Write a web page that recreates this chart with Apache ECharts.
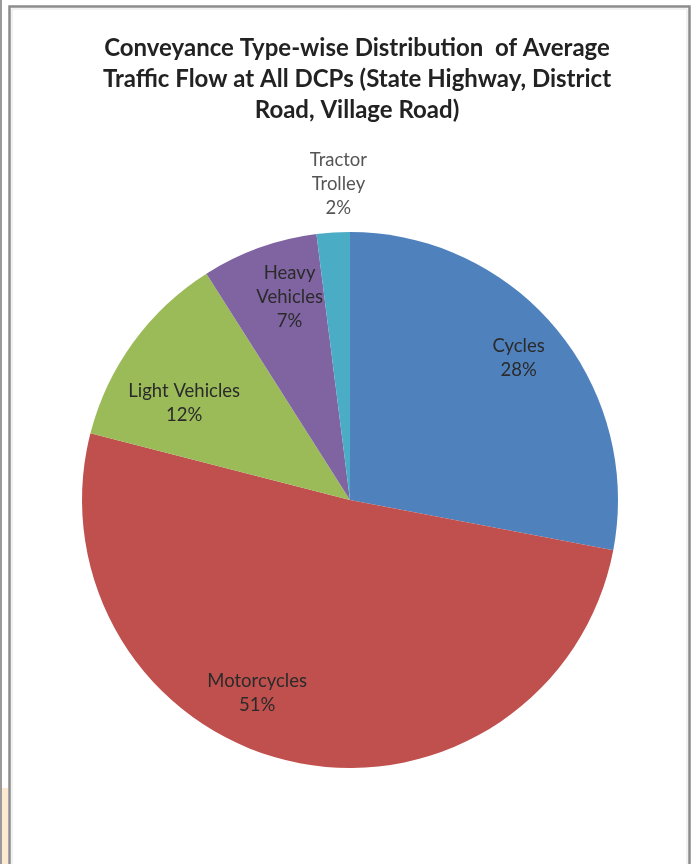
<!DOCTYPE html>
<html>
<head>
<meta charset="utf-8">
<script src="https://cdn.jsdelivr.net/npm/echarts@6/dist/echarts.min.js"></script>
<style>
  html, body { margin: 0; padding: 0; background: #ffffff; }
  #chart { width: 696px; height: 864px; }
</style>
</head>
<body>
<div id="chart"></div>
<script>
// Conveyance types and their share (%) of average traffic flow
const categories = ['Cycles', 'Motorcycles', 'Light Vehicles', 'Heavy Vehicles', 'Tractor Trolley'];
const shares = [28, 51, 12, 7, 2];
const sliceColors = ['#4F81BD', '#C0504D', '#9BBB59', '#8064A2', '#4BACC6'];

// Slice labels that wrap onto two lines
const wrapped = ['Heavy Vehicles', 'Tractor Trolley'];

// Nudges moving each label from the default inside spot to where it sits
const labelNudge = [[63, -55], [-63, 59], [-55, -16], [-14, -74], [-3, -179]];

const chart = echarts.init(document.getElementById('chart'), null, { renderer: 'canvas' });

const option = {
  backgroundColor: '#ffffff',
  animation: false,
  title: {
    text: 'Conveyance Type-wise Distribution  of Average\nTraffic Flow at All DCPs (State Highway, District\nRoad, Village Road)',
    left: 352,
    top: 28,
    textAlign: 'center',
    textStyle: {
      fontFamily: 'Lato',
      fontWeight: 'bold',
      fontSize: 24,
      lineHeight: 31,
      color: '#222222'
    }
  },
  graphic: [
    // outer page edge
    { type: 'rect', shape: { x: 0, y: 0, width: 2, height: 864 }, style: { fill: '#9a9a9a' }, silent: true },
    { type: 'rect', shape: { x: 2, y: 788, width: 6, height: 76 }, style: { fill: '#fde9d2' }, silent: true },
    // chart frame
    { type: 'rect', shape: { x: 9.5, y: 6.5, width: 680, height: 900 },
      style: { fill: 'none', stroke: '#8c8c8c', lineWidth: 2.5 }, silent: true },
    { type: 'rect', shape: { x: 12, y: 9, width: 675, height: 900 },
      style: { fill: 'none', stroke: '#e4e4e4', lineWidth: 1 }, silent: true }
  ],
  series: [{
    type: 'pie',
    center: [350, 500],
    radius: [0, 268],
    startAngle: 90,
    clockwise: true,
    silent: true,
    itemStyle: { borderWidth: 0 },
    label: {
      show: true,
      position: 'inside',
      fontFamily: 'Lato',
      fontSize: 18.5,
      lineHeight: 24,
      color: '#2a2a2a',
      formatter: function (p) {
        const name = wrapped.indexOf(p.name) >= 0 ? p.name.replace(' ', '\n') : p.name;
        return name + '\n' + p.value + '%';
      }
    },
    labelLine: { show: false },
    labelLayout: function (params) {
      const n = labelNudge[params.dataIndex];
      return { dx: n[0], dy: n[1] };
    },
    data: categories.map(function (name, i) {
      return {
        name: name,
        value: shares[i],
        itemStyle: { color: sliceColors[i] },
        label: name === 'Tractor Trolley' ? { color: '#555555' } : {}
      };
    })
  }]
};

chart.setOption(option);
</script>
</body>
</html>
